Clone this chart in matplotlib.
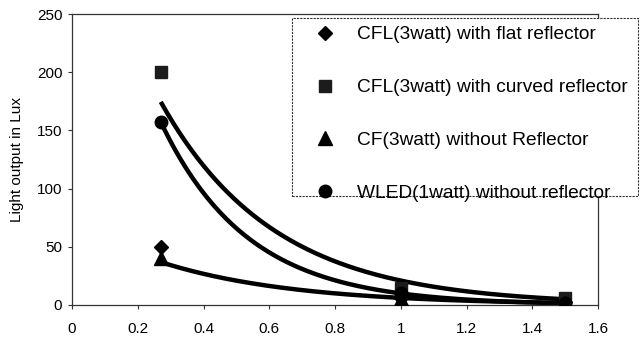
import matplotlib.pyplot as plt
import numpy as np
from matplotlib.patches import Rectangle

# distances (m) and measured light output (lux)
distance = [0.27, 1.0, 1.5]
cfl_flat = [50, 6, 3]
cfl_curved = [200, 15, 6]
cf_no_refl = [40, 5, 2]
wled_no_refl = [157, 10, 1.5]

labels = [
    "CFL(3watt) with flat reflector",
    "CFL(3watt) with curved reflector",
    "CF(3watt) without Reflector",
    "WLED(1watt) without reflector",
]

x_ticks = [0, 0.2, 0.4, 0.6, 0.8, 1, 1.2, 1.4, 1.6]
x_tick_labels = ["0", "0.2", "0.4", "0.6", "0.8", "1", "1.2", "1.4", "1.6"]
y_ticks = [0, 50, 100, 150, 200, 250]

plt.rcParams["font.family"] = ["Liberation Sans", "DejaVu Sans"]


def exp_trend(x, y):
    # excel-style exponential trendline (log-linear least squares)
    b, ln_a = np.polyfit(x, np.log(y), 1)
    xs = np.linspace(min(x), max(x), 200)
    return xs, np.exp(ln_a) * np.exp(b * xs)


W, H = 640, 344
fig = plt.figure(figsize=(W / 100, H / 100), dpi=100)
ax = fig.add_axes([72 / W, 1 - 305 / H, (598 - 72) / W, (305 - 14) / H])

# trendlines for three of the series
for series in (cfl_curved, wled_no_refl, cf_no_refl):
    xs, ys = exp_trend(distance, series)
    ax.plot(xs, ys, color="black", lw=3.2, solid_capstyle="butt", zorder=2)

ax.plot(distance, cfl_flat, ls="none", marker="D", ms=7.5, color="black", label=labels[0], zorder=3)
ax.plot(distance, cfl_curved, ls="none", marker="s", ms=9, color="#1c1c1c", label=labels[1], zorder=3)
ax.plot(distance, cf_no_refl, ls="none", marker="^", ms=9.5, color="black", label=labels[2], zorder=3)
ax.plot(distance, wled_no_refl, ls="none", marker="o", ms=9, color="black", label=labels[3], zorder=3)

ax.set_xlim(0, 1.6)
ax.set_ylim(0, 250)
ax.set_xticks(x_ticks, x_tick_labels)
ax.set_yticks(y_ticks)
ax.tick_params(axis="both", labelsize=11, length=3, width=0.8, color="#333333")
ax.tick_params(axis="x", pad=9)
ax.tick_params(axis="y", pad=4)
ax.set_ylabel("Light output in Lux", fontsize=11, labelpad=9)

for side in ("left", "bottom", "top", "right"):
    ax.spines[side].set_linestyle((0, (2, 1)))
    ax.spines[side].set_linewidth(0.9)
    ax.spines[side].set_color("#333333")

# legend box, drawn separately so it can run past the plot area
box = Rectangle(
    (292 / W, 1 - 196 / H), (638 - 292) / W, (196 - 18) / H,
    transform=fig.transFigure, facecolor="white", edgecolor="#333333",
    linewidth=0.8, linestyle=(0, (2, 1)), zorder=5,
)
fig.patches.append(box)

leg = fig.legend(
    loc="upper left",
    bbox_to_anchor=(313.5 / W, 1 - 26 / H),
    fontsize=13.8,
    labelspacing=1.85,
    handletextpad=1.07,
    handlelength=1.2,
    borderpad=0,
    borderaxespad=0,
    frameon=False,
)
leg.set_zorder(6)

fig.savefig("out.png", dpi=100)
